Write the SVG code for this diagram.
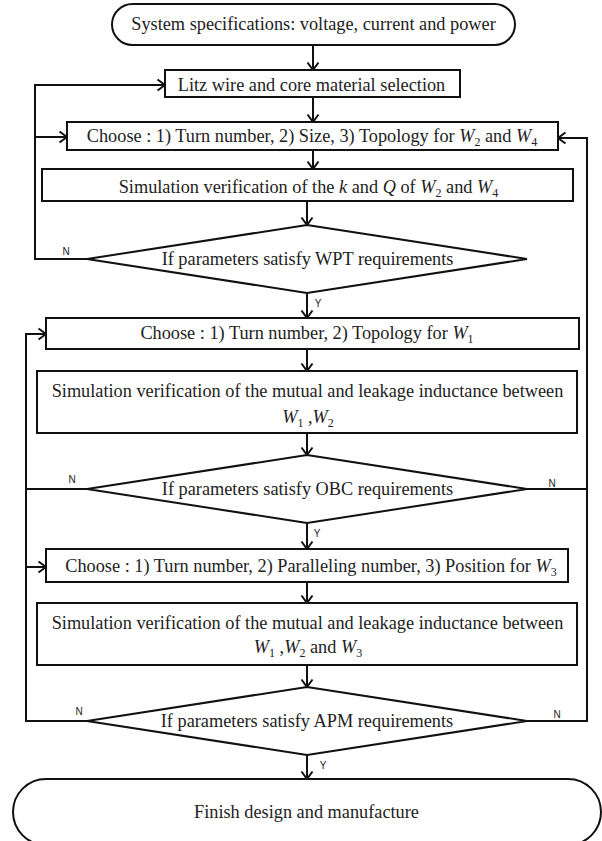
<svg xmlns="http://www.w3.org/2000/svg" width="602" height="841" viewBox="0 0 602 841">
<defs>
<style>
.b{fill:#fff;stroke:#111;stroke-width:2}
.t{font-family:"Liberation Serif","Times New Roman",serif;font-size:18.3px;fill:#222;text-anchor:middle}
.i{font-style:italic}
.s{font-size:12px}
.c{fill:none;stroke:#111;stroke-width:2}
.a{marker-end:url(#arr)}
.l{font-family:"Liberation Sans",Arial,sans-serif;font-size:10px;fill:#222;text-anchor:middle}
</style>
<marker id="arr" markerUnits="userSpaceOnUse" markerWidth="12" markerHeight="14" viewBox="0 0 12 14" refX="9" refY="7" orient="auto">
<path d="M1.5,1.5 L9,7 L1.5,12.5" fill="none" stroke="#111" stroke-width="2"/>
</marker>
</defs>
<rect width="602" height="841" fill="#fff"/>
<g id="connectors">
<line class="c a" x1="313" y1="45" x2="313" y2="70"/>
<line class="c a" x1="313" y1="97" x2="313" y2="122"/>
<line class="c a" x1="313" y1="150" x2="313" y2="169"/>
<line class="c a" x1="307" y1="201" x2="307" y2="225"/>
<line class="c a" x1="307" y1="293" x2="307" y2="318"/>
<line class="c a" x1="307" y1="349" x2="307" y2="371"/>
<line class="c a" x1="307" y1="433" x2="307" y2="455"/>
<line class="c a" x1="307" y1="523" x2="307" y2="549"/>
<line class="c a" x1="307" y1="582" x2="307" y2="603"/>
<line class="c a" x1="307" y1="665" x2="307" y2="687"/>
<line class="c a" x1="307" y1="755" x2="307" y2="779"/>
<polyline class="c a" points="87,259 35,259 35,85 165,85"/>
<line class="c a" x1="35" y1="137" x2="67" y2="137"/>
<polyline class="c a" points="87,721 26,721 26,334 46,334"/>
<line class="c" x1="87" y1="489" x2="26" y2="489"/>
<line class="c a" x1="26" y1="567" x2="46" y2="567"/>
<polyline class="c a" points="527,721 587,721 587,138 558,138"/>
<line class="c" x1="527" y1="489" x2="587" y2="489"/>
<text class="l" x="66" y="254.5">N</text>
<text class="l" x="318" y="306.5">Y</text>
<text class="l" x="72" y="482.5">N</text>
<text class="l" x="552" y="486.5">N</text>
<text class="l" x="317" y="536.5">Y</text>
<text class="l" x="79" y="714.5">N</text>
<text class="l" x="557" y="717.5">N</text>
<text class="l" x="323" y="768.5">Y</text>
</g>
<g id="start">
<rect class="b" x="112" y="4" width="403" height="41" rx="20.5"/>
<text class="t" x="313.5" y="30">System specifications: voltage, current and power</text>
</g>
<g id="litz">
<rect class="b" x="165" y="70" width="295" height="27"/>
<text class="t" x="311.5" y="91">Litz wire and core material selection</text>
</g>
<g id="choose1">
<rect class="b" x="67" y="122" width="491" height="28"/>
<text class="t" x="312" y="142">Choose : 1) Turn number, 2) Size, 3) Topology for <tspan class="i">W</tspan><tspan class="s" dy="4">2</tspan><tspan dy="-4"> and </tspan><tspan class="i">W</tspan><tspan class="s" dy="4">4</tspan></text>
</g>
<g id="sim1">
<rect class="b" x="42" y="169" width="531" height="32"/>
<text class="t" x="308.5" y="193">Simulation verification of the <tspan class="i">k</tspan> and <tspan class="i">Q</tspan> of <tspan class="i">W</tspan><tspan class="s" dy="4">2</tspan><tspan dy="-4"> and </tspan><tspan class="i">W</tspan><tspan class="s" dy="4">4</tspan></text>
</g>
<g id="wpt">
<polygon class="b" points="307,225 527,259 307,293 87,259"/>
<text class="t" x="307.5" y="265">If parameters satisfy WPT requirements</text>
</g>
<g id="choose2">
<rect class="b" x="46" y="318" width="533" height="31"/>
<text class="t" x="307" y="339">Choose : 1) Turn number, 2) Topology for <tspan class="i">W</tspan><tspan class="s" dy="4">1</tspan></text>
</g>
<g id="sim2">
<rect class="b" x="37" y="371" width="540" height="62"/>
<text class="t" x="307.5" y="397">Simulation verification of the mutual and leakage inductance between</text>
<text class="t" x="308" y="423"><tspan class="i">W</tspan><tspan class="s" dy="4">1</tspan><tspan dy="-4"> ,</tspan><tspan class="i">W</tspan><tspan class="s" dy="4">2</tspan></text>
</g>
<g id="obc">
<polygon class="b" points="307,455 527,489 307,523 87,489"/>
<text class="t" x="307.5" y="495">If parameters satisfy OBC requirements</text>
</g>
<g id="choose3">
<rect class="b" x="46" y="549" width="522" height="33"/>
<text class="t" x="311" y="572">Choose : 1) Turn number, 2) Paralleling number, 3) Position for <tspan class="i">W</tspan><tspan class="s" dy="4">3</tspan></text>
</g>
<g id="sim3">
<rect class="b" x="37" y="603" width="540" height="62"/>
<text class="t" x="307.5" y="629">Simulation verification of the mutual and leakage inductance between</text>
<text class="t" x="308" y="653"><tspan class="i">W</tspan><tspan class="s" dy="4">1</tspan><tspan dy="-4"> ,</tspan><tspan class="i">W</tspan><tspan class="s" dy="4">2</tspan><tspan dy="-4"> and </tspan><tspan class="i">W</tspan><tspan class="s" dy="4">3</tspan></text>
</g>
<g id="apm">
<polygon class="b" points="307,687 527,721 307,755 87,721"/>
<text class="t" x="307" y="727">If parameters satisfy APM requirements</text>
</g>
<g id="finish">
<rect class="b" x="13" y="779" width="588" height="66" rx="33"/>
<text class="t" x="306.5" y="818">Finish design and manufacture</text>
</g>
</svg>
